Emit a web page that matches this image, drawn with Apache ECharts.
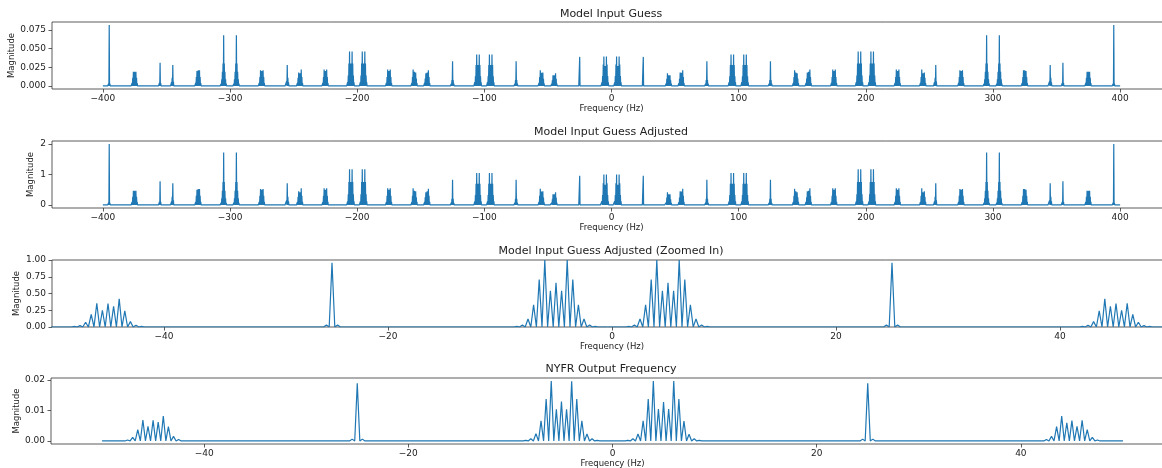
<!DOCTYPE html>
<html>
<head>
    <meta charset="utf-8">
    <title>NYFR spectra</title>
    <script src="https://cdn.jsdelivr.net/npm/echarts@6/dist/echarts.min.js"></script>
    <style>
        html, body { margin: 0; padding: 0; background: #fff; }
    </style>
</head>
<body>
    <div id="main" style="width: 1162px;height:468px;"></div>
    <script type="text/javascript">
        // each cluster: [first frequency, magnitudes on a 0.5 Hz grid]
        var inputGuess = [
            [-396, [0.001, 0.003, 0.0815, 0.003, 0.001]],
            [-377.5, [0.001, 0.004, 0.011, 0.019, 0.012, 0.019, 0.013, 0.019, 0.011, 0.004, 0.001]],
            [-356, [0.001, 0.004, 0.031, 0.004, 0.001]],
            [-346.5, [0.001, 0.005, 0.011, 0.028, 0.006, 0.002, 0.001]],
            [-327.5, [0.001, 0.004, 0.012, 0.02, 0.015, 0.021, 0.016, 0.021, 0.012, 0.004, 0.001]],
            [-307.5, [0.001, 0.003, 0.009, 0.019, 0.03, 0.068, 0.03, 0.019, 0.009, 0.003, 0.001]],
            [-297.5, [0.001, 0.003, 0.009, 0.019, 0.03, 0.068, 0.03, 0.019, 0.009, 0.003, 0.001]],
            [-277.5, [0.001, 0.004, 0.012, 0.021, 0.015, 0.02, 0.015, 0.021, 0.012, 0.004, 0.001]],
            [-256.5, [0.001, 0.002, 0.006, 0.028, 0.011, 0.005, 0.001]],
            [-247.5, [0.001, 0.004, 0.011, 0.018, 0.012, 0.017, 0.014, 0.022, 0.012, 0.004, 0.001]],
            [-227.5, [0.001, 0.004, 0.012, 0.022, 0.014, 0.02, 0.014, 0.022, 0.012, 0.004, 0.001]],
            [-208, [0.001, 0.005, 0.014, 0.03, 0.046, 0.025, 0.03, 0.025, 0.046, 0.03, 0.014, 0.005, 0.001]],
            [-198, [0.001, 0.005, 0.014, 0.03, 0.046, 0.025, 0.03, 0.025, 0.046, 0.03, 0.014, 0.005, 0.001]],
            [-177.5, [0.001, 0.004, 0.012, 0.022, 0.014, 0.02, 0.014, 0.022, 0.012, 0.004, 0.001]],
            [-157.5, [0.001, 0.004, 0.012, 0.022, 0.014, 0.019, 0.013, 0.018, 0.01, 0.004, 0.001]],
            [-147.5, [0.001, 0.004, 0.01, 0.017, 0.013, 0.018, 0.014, 0.021, 0.012, 0.004, 0.001]],
            [-126.5, [0.001, 0.003, 0.008, 0.033, 0.008, 0.003, 0.001]],
            [-108, [0.001, 0.005, 0.013, 0.028, 0.042, 0.023, 0.028, 0.023, 0.042, 0.028, 0.013, 0.005, 0.001]],
            [-98, [0.001, 0.005, 0.013, 0.028, 0.042, 0.023, 0.028, 0.023, 0.042, 0.028, 0.013, 0.005, 0.001]],
            [-76.5, [0.001, 0.003, 0.008, 0.033, 0.008, 0.003, 0.001]],
            [-57.5, [0.001, 0.004, 0.012, 0.021, 0.012, 0.0175, 0.0155, 0.018, 0.0095, 0.0035, 0.001]],
            [-47.5, [0.001, 0.003, 0.0077, 0.0144, 0.0101, 0.0142, 0.0126, 0.017, 0.0097, 0.0032, 0.001]],
            [-25.5, [0.0012, 0.0389, 0.0012]],
            [-8, [0.0012, 0.0049, 0.0134, 0.0287, 0.0395, 0.0219, 0.0267, 0.0219, 0.0395, 0.0287, 0.0134, 0.0049, 0.0012]],
            [2, [0.0012, 0.0049, 0.0134, 0.0287, 0.0395, 0.0219, 0.0267, 0.0219, 0.0395, 0.0287, 0.0134, 0.0049, 0.0012]],
            [24.5, [0.0012, 0.0389, 0.0012]],
            [42.5, [0.001, 0.0032, 0.0097, 0.017, 0.0126, 0.0142, 0.0101, 0.0144, 0.0077, 0.003, 0.001]],
            [52.5, [0.001, 0.0035, 0.0095, 0.018, 0.0155, 0.0175, 0.012, 0.021, 0.012, 0.004, 0.001]],
            [73.5, [0.001, 0.003, 0.008, 0.033, 0.008, 0.003, 0.001]],
            [92, [0.001, 0.005, 0.013, 0.028, 0.042, 0.023, 0.028, 0.023, 0.042, 0.028, 0.013, 0.005, 0.001]],
            [102, [0.001, 0.005, 0.013, 0.028, 0.042, 0.023, 0.028, 0.023, 0.042, 0.028, 0.013, 0.005, 0.001]],
            [123.5, [0.001, 0.003, 0.008, 0.033, 0.008, 0.003, 0.001]],
            [142.5, [0.001, 0.004, 0.012, 0.021, 0.014, 0.018, 0.013, 0.017, 0.01, 0.004, 0.001]],
            [152.5, [0.001, 0.004, 0.01, 0.018, 0.013, 0.019, 0.014, 0.022, 0.012, 0.004, 0.001]],
            [172.5, [0.001, 0.004, 0.012, 0.022, 0.014, 0.02, 0.014, 0.022, 0.012, 0.004, 0.001]],
            [192, [0.001, 0.005, 0.014, 0.03, 0.046, 0.025, 0.03, 0.025, 0.046, 0.03, 0.014, 0.005, 0.001]],
            [202, [0.001, 0.005, 0.014, 0.03, 0.046, 0.025, 0.03, 0.025, 0.046, 0.03, 0.014, 0.005, 0.001]],
            [222.5, [0.001, 0.004, 0.012, 0.022, 0.014, 0.02, 0.014, 0.022, 0.012, 0.004, 0.001]],
            [242.5, [0.001, 0.004, 0.012, 0.022, 0.014, 0.017, 0.012, 0.018, 0.011, 0.004, 0.001]],
            [253.5, [0.001, 0.005, 0.011, 0.028, 0.006, 0.002, 0.001]],
            [272.5, [0.001, 0.004, 0.012, 0.021, 0.015, 0.02, 0.015, 0.021, 0.012, 0.004, 0.001]],
            [292.5, [0.001, 0.003, 0.009, 0.019, 0.03, 0.068, 0.03, 0.019, 0.009, 0.003, 0.001]],
            [302.5, [0.001, 0.003, 0.009, 0.019, 0.03, 0.068, 0.03, 0.019, 0.009, 0.003, 0.001]],
            [322.5, [0.001, 0.004, 0.012, 0.021, 0.016, 0.021, 0.015, 0.02, 0.012, 0.004, 0.001]],
            [343.5, [0.001, 0.002, 0.006, 0.028, 0.011, 0.005, 0.001]],
            [354, [0.001, 0.004, 0.031, 0.004, 0.001]],
            [372.5, [0.001, 0.004, 0.011, 0.019, 0.013, 0.019, 0.012, 0.019, 0.011, 0.004, 0.001]],
            [394, [0.001, 0.003, 0.0815, 0.003, 0.001]]
        ];

        // adjusted guess, shown in full (panel 2) and zoomed to +-50 Hz (panel 3)
        var adjustedGuess = [
            [-396, [0.02, 0.07, 2.0, 0.07, 0.02]],
            [-377.5, [0.02, 0.1, 0.27, 0.47, 0.3, 0.47, 0.32, 0.47, 0.27, 0.1, 0.02]],
            [-356, [0.02, 0.1, 0.78, 0.1, 0.02]],
            [-346.5, [0.02, 0.12, 0.27, 0.71, 0.15, 0.05, 0.02]],
            [-327.5, [0.02, 0.1, 0.3, 0.5, 0.37, 0.52, 0.4, 0.52, 0.3, 0.1, 0.02]],
            [-307.5, [0.02, 0.07, 0.22, 0.47, 0.75, 1.72, 0.75, 0.47, 0.22, 0.07, 0.02]],
            [-297.5, [0.02, 0.07, 0.22, 0.47, 0.75, 1.72, 0.75, 0.47, 0.22, 0.07, 0.02]],
            [-277.5, [0.02, 0.1, 0.3, 0.52, 0.37, 0.5, 0.37, 0.52, 0.3, 0.1, 0.02]],
            [-256.5, [0.02, 0.05, 0.15, 0.71, 0.27, 0.12, 0.02]],
            [-247.5, [0.02, 0.1, 0.27, 0.45, 0.3, 0.42, 0.35, 0.55, 0.3, 0.1, 0.02]],
            [-227.5, [0.02, 0.1, 0.3, 0.55, 0.35, 0.5, 0.35, 0.55, 0.3, 0.1, 0.02]],
            [-208, [0.03, 0.12, 0.35, 0.75, 1.17, 0.62, 0.75, 0.62, 1.17, 0.75, 0.35, 0.12, 0.03]],
            [-198, [0.03, 0.12, 0.35, 0.75, 1.17, 0.62, 0.75, 0.62, 1.17, 0.75, 0.35, 0.12, 0.03]],
            [-177.5, [0.02, 0.1, 0.3, 0.55, 0.35, 0.5, 0.35, 0.55, 0.3, 0.1, 0.02]],
            [-157.5, [0.02, 0.1, 0.3, 0.55, 0.35, 0.47, 0.32, 0.45, 0.25, 0.1, 0.02]],
            [-147.5, [0.02, 0.1, 0.25, 0.42, 0.32, 0.45, 0.35, 0.53, 0.3, 0.1, 0.02]],
            [-126.5, [0.02, 0.07, 0.2, 0.83, 0.2, 0.07, 0.02]],
            [-108, [0.03, 0.12, 0.33, 0.7, 1.05, 0.57, 0.7, 0.57, 1.05, 0.7, 0.33, 0.12, 0.03]],
            [-98, [0.03, 0.12, 0.33, 0.7, 1.05, 0.57, 0.7, 0.57, 1.05, 0.7, 0.33, 0.12, 0.03]],
            [-76.5, [0.02, 0.07, 0.2, 0.83, 0.2, 0.07, 0.02]],
            [-57.5, [0.02, 0.1, 0.3, 0.53, 0.3, 0.44, 0.39, 0.45, 0.24, 0.09, 0.02]],
            [-48, [0.01, 0.02, 0.07, 0.19, 0.355, 0.25, 0.35, 0.31, 0.42, 0.24, 0.08, 0.025, 0.01]],
            [-25.5, [0.03, 0.96, 0.03]],
            [-8.5, [0.01, 0.03, 0.12, 0.33, 0.71, 1.0, 0.54, 0.66, 0.54, 1.0, 0.71, 0.33, 0.12, 0.03, 0.01]],
            [1.5, [0.01, 0.03, 0.12, 0.33, 0.71, 1.0, 0.54, 0.66, 0.54, 1.0, 0.71, 0.33, 0.12, 0.03, 0.01]],
            [24.5, [0.03, 0.96, 0.03]],
            [42, [0.01, 0.025, 0.08, 0.24, 0.42, 0.31, 0.35, 0.25, 0.355, 0.19, 0.07, 0.02, 0.01]],
            [52.5, [0.02, 0.09, 0.24, 0.45, 0.39, 0.44, 0.3, 0.53, 0.3, 0.1, 0.02]],
            [73.5, [0.02, 0.07, 0.2, 0.83, 0.2, 0.07, 0.02]],
            [92, [0.03, 0.12, 0.33, 0.7, 1.05, 0.57, 0.7, 0.57, 1.05, 0.7, 0.33, 0.12, 0.03]],
            [102, [0.03, 0.12, 0.33, 0.7, 1.05, 0.57, 0.7, 0.57, 1.05, 0.7, 0.33, 0.12, 0.03]],
            [123.5, [0.02, 0.07, 0.2, 0.83, 0.2, 0.07, 0.02]],
            [142.5, [0.02, 0.1, 0.3, 0.53, 0.35, 0.45, 0.32, 0.42, 0.25, 0.1, 0.02]],
            [152.5, [0.02, 0.1, 0.25, 0.45, 0.32, 0.47, 0.35, 0.55, 0.3, 0.1, 0.02]],
            [172.5, [0.02, 0.1, 0.3, 0.55, 0.35, 0.5, 0.35, 0.55, 0.3, 0.1, 0.02]],
            [192, [0.03, 0.12, 0.35, 0.75, 1.17, 0.62, 0.75, 0.62, 1.17, 0.75, 0.35, 0.12, 0.03]],
            [202, [0.03, 0.12, 0.35, 0.75, 1.17, 0.62, 0.75, 0.62, 1.17, 0.75, 0.35, 0.12, 0.03]],
            [222.5, [0.02, 0.1, 0.3, 0.55, 0.35, 0.5, 0.35, 0.55, 0.3, 0.1, 0.02]],
            [242.5, [0.02, 0.1, 0.3, 0.55, 0.35, 0.42, 0.3, 0.45, 0.27, 0.1, 0.02]],
            [253.5, [0.02, 0.12, 0.27, 0.71, 0.15, 0.05, 0.02]],
            [272.5, [0.02, 0.1, 0.3, 0.52, 0.37, 0.5, 0.37, 0.52, 0.3, 0.1, 0.02]],
            [292.5, [0.02, 0.07, 0.22, 0.47, 0.75, 1.72, 0.75, 0.47, 0.22, 0.07, 0.02]],
            [302.5, [0.02, 0.07, 0.22, 0.47, 0.75, 1.72, 0.75, 0.47, 0.22, 0.07, 0.02]],
            [322.5, [0.02, 0.1, 0.3, 0.52, 0.4, 0.52, 0.37, 0.5, 0.3, 0.1, 0.02]],
            [343.5, [0.02, 0.05, 0.15, 0.71, 0.27, 0.12, 0.02]],
            [354, [0.02, 0.1, 0.78, 0.1, 0.02]],
            [372.5, [0.02, 0.1, 0.27, 0.47, 0.32, 0.47, 0.3, 0.47, 0.27, 0.1, 0.02]],
            [394, [0.02, 0.07, 2.0, 0.07, 0.02]]
        ];

        var nyfrOutput = [
            [-47.5, [0.0003, 0.0012, 0.0037, 0.0069, 0.0048, 0.0068, 0.0062, 0.0082, 0.0047, 0.0015, 0.0005]],
            [-25.5, [0.0006, 0.019, 0.0006]],
            [-8.5, [0.0002, 0.0007, 0.0024, 0.0066, 0.0138, 0.0197, 0.0104, 0.013, 0.0104, 0.0196, 0.0138, 0.0066, 0.0023, 0.0007, 0.0002]],
            [1.5, [0.0002, 0.0007, 0.0023, 0.0066, 0.0138, 0.0197, 0.0105, 0.0128, 0.0105, 0.0197, 0.0138, 0.0065, 0.0022, 0.0007, 0.0002]],
            [24.5, [0.0006, 0.019, 0.0006]],
            [42.5, [0.0005, 0.0015, 0.0047, 0.0082, 0.006, 0.0067, 0.0048, 0.0068, 0.0037, 0.0012, 0.0003]]
        ];

        var wideTicks = [-400, -300, -200, -100, 0, 100, 200, 300, 400];
        var zoomTicks = [-40, -20, 0, 20, 40];
        var guessTicks = [0, 0.025, 0.05, 0.075];
        var adjustedTicks = [0, 1, 2];
        var zoomedTicks = [0, 0.25, 0.5, 0.75, 1];
        var nyfrTicks = [0, 0.01, 0.02];

        // spectrum line: every bin peak has a zero bin on either side
        function toLine(clusters, fmin, fmax) {
            var pts = [[fmin, 0]];
            clusters.forEach(function (c) {
                c[1].forEach(function (h, i) {
                    var f = c[0] + 0.5 * i;
                    pts.push([f - 0.25, 0], [f, h]);
                });
                pts.push([c[0] + 0.5 * (c[1].length - 1) + 0.25, 0]);
            });
            pts.push([fmax, 0]);
            return pts;
        }

        var font = 'DejaVu Sans';
        var txt = '#222';
        var blue = '#1f77b4';

        function minus(v) {
            return String(v).replace('-', '\u2212');
        }

        function xAx(idx, min, max, ticks, gap) {
            return {
                type: 'value', gridIndex: idx, min: min, max: max,
                name: 'Frequency (Hz)', nameLocation: 'middle', nameGap: gap,
                nameTextStyle: { fontFamily: font, fontSize: 8.5, color: txt },
                axisLine: { show: false, onZero: false },
                splitLine: { show: false },
                axisTick: { show: true, length: 3.5, customValues: ticks, lineStyle: { color: '#333', width: 0.8 } },
                axisLabel: { customValues: ticks, fontFamily: font, fontSize: 9, color: txt, margin: 5, formatter: minus }
            };
        }

        function yAx(idx, min, max, ticks, digits, gap) {
            return {
                type: 'value', gridIndex: idx, min: min, max: max,
                name: 'Magnitude', nameLocation: 'middle', nameGap: gap, nameRotate: 90,
                nameMoveOverlap: false,
                nameTextStyle: { fontFamily: font, fontSize: 8.5, color: txt },
                axisLine: { show: false, onZero: false },
                splitLine: { show: false },
                axisTick: { show: true, length: 3.5, customValues: ticks, lineStyle: { color: '#333', width: 0.8 } },
                axisLabel: {
                    customValues: ticks, fontFamily: font, fontSize: 9, color: txt, margin: 6,
                    formatter: function (v) { return v.toFixed(digits); }
                }
            };
        }

        function grid(left, top, width, height) {
            return {
                left: left, top: top, width: width, height: height,
                show: true, borderColor: '#333', borderWidth: 0.8,
                outerBoundsMode: 'none'
            };
        }

        function line(idx, data) {
            return {
                type: 'line', xAxisIndex: idx, yAxisIndex: idx, data: data,
                symbol: 'none', showSymbol: false, clip: true,
                lineStyle: { color: blue, width: 1.2 }
            };
        }

        function title(text, y) {
            return {
                type: 'text', x: 611, y: y,
                style: { text: text, fontFamily: font, fontSize: 11, fill: txt, textAlign: 'center', textVerticalAlign: 'middle' }
            };
        }

        var chart = echarts.init(document.getElementById('main'));
        var adjustedLine = toLine(adjustedGuess, -400, 400);

        chart.setOption({
            animation: false,
            backgroundColor: '#fff',
            grid: [
                grid(52, 22, 1119, 67),
                grid(52, 141, 1119, 67),
                grid(52, 260, 1120, 67),
                grid(51, 378, 1123, 66)
            ],
            xAxis: [
                xAx(0, -440, 440, wideTicks, 15),
                xAx(1, -440, 440, wideTicks, 15),
                xAx(2, -50, 50, zoomTicks, 15),
                xAx(3, -55, 55, zoomTicks, 15)
            ],
            yAxis: [
                yAx(0, -0.0041, 0.0856, guessTicks, 3, 36),
                yAx(1, -0.1, 2.1, adjustedTicks, 0, 17),
                yAx(2, 0, 1, zoomedTicks, 2, 31),
                yAx(3, -0.001, 0.0207, nyfrTicks, 2, 30)
            ],
            graphic: [
                title('Model Input Guess', 14),
                title('Model Input Guess Adjusted', 132),
                title('Model Input Guess Adjusted (Zoomed In)', 251),
                title('NYFR Output Frequency', 369)
            ],
            series: [
                line(0, toLine(inputGuess, -400, 400)),
                line(1, adjustedLine),
                line(2, adjustedLine),
                line(3, toLine(nyfrOutput, -50, 50))
            ]
        });
    </script>
</body>
</html>
